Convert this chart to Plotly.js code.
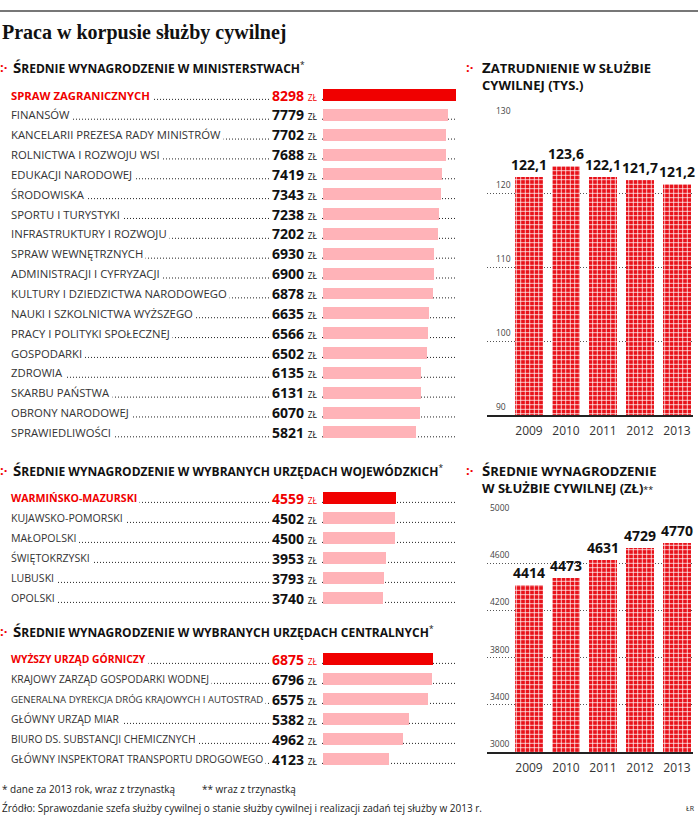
<!DOCTYPE html>
<html><head><meta charset="utf-8">
<script src="https://cdn.plot.ly/plotly-3.0.1.min.js"></script>
<style>html,body{margin:0;padding:0;background:#fff}</style>
</head><body><div id="chart" style="width:698px;height:816px"></div>
<script>
// ---------- DATA ----------
const ministries = ['SPRAW ZAGRANICZNYCH','FINANSÓW','KANCELARII PREZESA RADY MINISTRÓW','ROLNICTWA I ROZWOJU WSI','EDUKACJI NARODOWEJ','ŚRODOWISKA','SPORTU I TURYSTYKI','INFRASTRUKTURY I ROZWOJU','SPRAW WEWNĘTRZNYCH','ADMINISTRACJI I CYFRYZACJI','KULTURY I DZIEDZICTWA NARODOWEGO','NAUKI I SZKOLNICTWA WYŻSZEGO','PRACY I POLITYKI SPOŁECZNEJ','GOSPODARKI','ZDROWIA','SKARBU PAŃSTWA','OBRONY NARODOWEJ','SPRAWIEDLIWOŚCI'];
const ministrySalaries = [8298,7779,7702,7688,7419,7343,7238,7202,6930,6900,6878,6635,6566,6502,6135,6131,6070,5821];
const voivodships = ['WARMIŃSKO-MAZURSKI','KUJAWSKO-POMORSKI','MAŁOPOLSKI','ŚWIĘTOKRZYSKI','LUBUSKI','OPOLSKI'];
const voivodshipSalaries = [4559,4502,4500,3953,3793,3740];
const centralOffices = ['WYŻSZY URZĄD GÓRNICZY','KRAJOWY ZARZĄD GOSPODARKI WODNEJ','GENERALNA DYREKCJA DRÓG KRAJOWYCH I AUTOSTRAD','GŁÓWNY URZĄD MIAR','BIURO DS. SUBSTANCJI CHEMICZNYCH','GŁÓWNY INSPEKTORAT TRANSPORTU DROGOWEGO'];
const centralSalaries = [6875,6796,6575,5382,4962,4123];
const years = ['2009','2010','2011','2012','2013'];
const employment = [122.1,123.6,122.1,121.7,121.2];
const avgSalary = [4414,4473,4631,4729,4770];

// ---------- LAYOUT HELPERS ----------
const W = 698, H = 816;
const fx = p => p / W, fy = p => 1 - p / H;
const RED = '#f00000', PINK = '#ffb3b8', BARRED = '#e8121a', TXT = '#333';

const traces = [], shapes = [], annotations = [];
const layout = {
  width: W, height: H, margin: {l:0, r:0, t:0, b:0},
  paper_bgcolor: '#fff', plot_bgcolor: 'rgba(0,0,0,0)',
  font: {family: 'Open Sans, sans-serif', color: TXT},
  showlegend: false, bargap: 0,
  xaxis: {domain: [fx(323), fx(456)], range: [0, Math.max(...ministrySalaries)], visible: false, anchor: 'y', fixedrange: true}
};

const sections = [
  {cats: ministries, vals: ministrySalaries, yid: 'y', key: 'yaxis', first: 95, step: 19.85, fs: 11.3},
  {cats: voivodships, vals: voivodshipSalaries, yid: 'y2', key: 'yaxis2', first: 498, step: 20, fs: 10.6},
  {cats: centralOffices, vals: centralSalaries, yid: 'y3', key: 'yaxis3', first: 659, step: 20, fs: 10.3}
];

sections.forEach(s => {
  const n = s.cats.length;
  const top = s.first - s.step / 2;
  layout[s.key] = {type: 'category', domain: [fy(top + n * s.step), fy(top)], range: [n - 0.5, -0.5], visible: false, anchor: 'x', fixedrange: true};
  traces.push({
    type: 'bar', orientation: 'h', x: s.vals, y: s.cats, xaxis: 'x', yaxis: s.yid,
    width: 0.6, marker: {color: s.vals.map((v, i) => i === 0 ? RED : PINK), line: {width: 0}},
    hoverinfo: 'skip'
  });
  s.cats.forEach((c, i) => {
    const hi = i === 0;
    shapes.push({type: 'line', xref: 'paper', yref: s.yid, x0: fx(10), x1: fx(456), y0: i + 0.22, y1: i + 0.22,
      line: {color: '#222', width: 1, dash: '1px,2px'}, layer: 'below'});
    annotations.push({xref: 'paper', yref: s.yid, x: fx(8), y: c, xanchor: 'left', yanchor: 'middle',
      text: hi ? '<b>' + c + '</b>' : c, showarrow: false, bgcolor: '#fff', borderpad: 2,
      font: {size: c.length > 40 ? 9.6 : s.fs, color: hi ? RED : TXT}});
    annotations.push({xref: 'paper', yref: s.yid, x: fx(321), y: c, xanchor: 'right', yanchor: 'middle',
      text: '<b>' + s.vals[i] + '</b> <span style="font-size:8.5px">ZŁ</span>', showarrow: false, bgcolor: '#fff', borderpad: 2,
      font: {size: 14, color: hi ? RED : '#111'}});
  });
});

// ---------- RIGHT CHARTS ----------
const patt = {shape: '+', fgcolor: '#ffffff', bgcolor: BARRED, size: 4.5, solidity: 0.3};
function rightChart(xid, yid, vals, text, yBottom, yTop, range, dtick, standoff) {
  traces.push({
    type: 'bar', x: years, y: vals, xaxis: xid, yaxis: yid, width: 0.78,
    marker: {color: BARRED, pattern: patt, line: {width: 0}},
    text: text, textposition: 'outside', constraintext: 'none', cliponaxis: false,
    textfont: {size: 14, color: '#111', weight: 700}, hoverinfo: 'skip'
  });
  const xk = 'xaxis' + xid.slice(1), yk = 'yaxis' + yid.slice(1);
  layout[xk] = {domain: [fx(487), fx(693)], type: 'category', range: [(487 - 529) / 37, (693 - 529) / 37],
    showline: true, linecolor: '#222', linewidth: 1.5, ticks: '', showgrid: false, zeroline: false,
    tickfont: {size: 12, color: TXT}, ticklabelstandoff: 4, anchor: yid, fixedrange: true};
  layout[yk] = {domain: [fy(yBottom), fy(yTop)], range: range, tick0: range[0], dtick: dtick,
    showgrid: true, gridcolor: '#555', griddash: '1px,2px', gridwidth: 1, zeroline: false, showline: false,
    ticks: '', tickfont: {size: 8.5, color: '#444'}, ticklabelposition: 'inside', ticklabelshift: -8,
    ticklabelstandoff: standoff, ticklabeloverflow: 'allow', anchor: xid, fixedrange: true, layer: 'below traces'};
}
rightChart('x4', 'y4', employment, employment.map(v => v.toFixed(1).replace('.', ',')), 415, 119, [90, 130], 10, 6);
rightChart('x5', 'y5', avgSalary, avgSalary.map(String), 752, 516, [3000, 5000], 400, 0);

// ---------- TEXTS ----------
shapes.push({type: 'line', xref: 'paper', yref: 'paper', x0: 0, x1: 1, y0: fy(11), y1: fy(11), line: {color: '#777', width: 2}});
function ann(px, py, text, font, extra) {
  annotations.push(Object.assign({xref: 'paper', yref: 'paper', x: fx(px), y: fy(py), xanchor: 'left', yanchor: 'middle',
    text: text, showarrow: false, align: 'left', font: font}, extra || {}));
}
ann(0, 33, '<b>Praca w korpusie służby cywilnej</b>', {family: 'Liberation Serif, serif', size: 20, color: '#111'});
const mark = (px, py) => ann(px, py, '<b>:·</b>', {size: 13, color: RED});
const hdr = t => '<b><span style="font-size:15px">' + t[0] + '</span>' + t.slice(1) + '</b>';
mark(-2, 67); ann(11, 67, hdr('ŚREDNIE WYNAGRODZENIE W MINISTERSTWACH') + '<sup>*</sup>', {size: 12, color: '#111'});
mark(-2, 470); ann(11, 470, hdr('ŚREDNIE WYNAGRODZENIE W WYBRANYCH URZĘDACH WOJEWÓDZKICH') + '<sup>*</sup>', {size: 12, color: '#111'});
mark(-2, 631); ann(11, 631, hdr('ŚREDNIE WYNAGRODZENIE W WYBRANYCH URZĘDACH CENTRALNYCH') + '<sup>*</sup>', {size: 12, color: '#111'});
mark(464, 67); ann(480, 75, hdr('ZATRUDNIENIE W SŁUŻBIE') + '<br><b>CYWILNEJ (TYS.)</b>', {size: 13, color: '#111'});
mark(464, 470); ann(480, 478, hdr('ŚREDNIE WYNAGRODZENIE') + '<br><b>W SŁUŻBIE CYWILNEJ (ZŁ)</b><span style="font-size:9px">**</span>', {size: 13, color: '#111'});
ann(0, 789, '* dane za 2013 rok, wraz z trzynastką', {size: 10, color: '#222'});
ann(200, 789, '** wraz z trzynastką', {size: 10, color: '#222'});
ann(0, 808, 'Źródło: Sprawozdanie szefa służby cywilnej o stanie służby cywilnej i realizacji zadań tej służby w 2013 r.', {size: 10, color: '#222'});
ann(684, 808, 'ŁR', {size: 7, color: '#222'});

layout.shapes = shapes;
layout.annotations = annotations;
Plotly.newPlot('chart', traces, layout, {staticPlot: true, displayModeBar: false});
</script>
</body></html>
